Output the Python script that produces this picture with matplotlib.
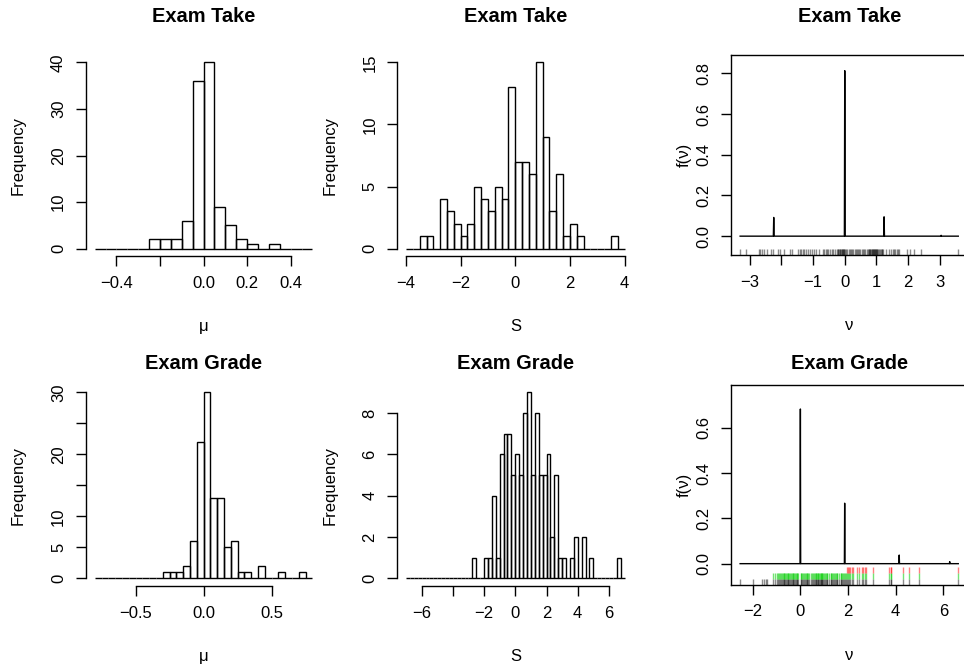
import numpy as np
import matplotlib
matplotlib.use("Agg")
import matplotlib.pyplot as plt

plt.rcParams['font.family'] = ['Liberation Sans', 'DejaVu Sans']
plt.rcParams['font.size'] = 12

W, H = 964, 667

# ---- histogram data (counts per bin) ----
take_mu_lo, take_mu_hi, take_mu_w = -0.5, 0.5, 0.05
take_mu_counts = [0, 0, 0, 0, 0, 2, 2, 2, 6, 36,
                  40, 9, 5, 2, 1, 0, 1, 0, 0, 0]

take_s_lo, take_s_hi, take_s_w = -4.0, 4.0, 0.25
take_s_counts = [0, 0, 1, 1, 0, 4, 3, 2, 1, 2,
                 5, 4, 3, 5, 4, 13, 7, 7, 6, 15,
                 9, 3, 6, 1, 2, 1, 0, 0, 0, 0, 1, 0]

grade_mu_lo, grade_mu_hi, grade_mu_w = -0.8, 0.8, 0.05
grade_mu_counts = [0, 0, 0, 0, 0, 0, 0, 0, 0, 0,
                   1, 1, 1, 2, 6, 22, 30, 13, 13, 5,
                   6, 1, 1, 0, 2, 0, 0, 1, 0, 0, 1, 0]

grade_s_lo, grade_s_hi, grade_s_w = -7.0, 7.0, 0.25
grade_s_counts = [0] * 17 + [1, 0, 0, 1, 1, 4, 1, 6, 7, 7,
                             5, 6, 5, 8, 9, 5, 8, 5, 5, 6,
                             2, 5, 1, 1, 0, 1, 2, 0, 2, 0,
                             1] + [0] * 6 + [1, 0]

# ---- density spikes and rugs ----
take_spike_x = [-2.24, 0.0, 1.24, 3.04]
take_spike_y = [0.092, 0.813, 0.095, 0.004]
take_rug = [-3.30, -3.11, -2.72, -2.66, -2.60, -2.54, -2.45, -2.33, -2.27,
            -2.12, -2.05, -1.91, -1.72, -1.67, -1.46, -1.42, -1.37, -1.33,
            -1.28, -1.22, -1.15, -1.10, -1.04, -0.97, -0.90, -0.80, -0.70,
            -0.64, -0.60, -0.55, -0.52, -0.45, -0.40, -0.36, -0.30, -0.24,
            -0.22, -0.20, -0.18, -0.16, -0.14, -0.12, -0.10, -0.08, -0.06,
            -0.04, -0.02, -0.01, 0.02, 0.05, 0.08, 0.12, 0.16, 0.20, 0.23,
            0.27, 0.31, 0.35, 0.38, 0.42, 0.45, 0.48, 0.53, 0.57, 0.61,
            0.65, 0.69, 0.73, 0.76, 0.78, 0.80, 0.81, 0.83, 0.85, 0.86,
            0.88, 0.90, 0.91, 0.93, 0.94, 0.96, 0.97, 0.99, 1.01, 1.03,
            1.05, 1.08, 1.10, 1.13, 1.16, 1.19, 1.22, 1.30, 1.38, 1.45,
            1.52, 1.56, 1.60, 1.64, 1.68, 1.72, 1.97, 2.05, 2.19, 2.40, 3.58]

grade_spike_x = [0.0, 1.86, 4.15, 6.27]
grade_spike_y = [0.683, 0.267, 0.038, 0.009]
grade_rug = [-2.53, -2.00, -1.62, -1.51, -1.45, -1.40, -1.16, -1.05, -0.98,
             -0.95, -0.90, -0.86, -0.82, -0.78, -0.75, -0.70, -0.68, -0.64,
             -0.61, -0.57, -0.54, -0.52, -0.47, -0.44, -0.40, -0.37, -0.33,
             -0.30, -0.27, -0.24, -0.20, -0.16, -0.13, -0.08, 0.01, 0.04,
             0.08, 0.12, 0.15, 0.19, 0.22, 0.26, 0.29, 0.33, 0.36, 0.45,
             0.50, 0.53, 0.57, 0.60, 0.64, 0.67, 0.71, 0.73, 0.76, 0.78,
             0.81, 0.85, 0.88, 0.90, 0.92, 0.95, 0.99, 1.02, 1.06, 1.10,
             1.13, 1.20, 1.27, 1.30, 1.34, 1.38, 1.41, 1.45, 1.48, 1.52,
             1.55, 1.62, 1.69, 1.72, 1.76, 1.80, 1.83, 1.86, 1.90, 1.95,
             2.01, 2.06, 2.10, 2.16, 2.20, 2.37, 2.46, 2.58, 2.64, 2.70,
             2.74, 3.06, 3.72, 3.79, 3.79, 4.32, 4.56, 4.98, 6.63]
grade_green_cut = -1.2   # points above this get the green rug
grade_red_cut = 1.92     # points above this get the red rug

fig = plt.figure(figsize=(W / 100, H / 100), dpi=100)


def px_axes(l, t, r, b):
    return fig.add_axes([l / W, 1 - b / H, (r - l) / W, (b - t) / H])


TICK = 7.2   # 10 px
LW = 1.0


def style(ax, xticks, xlabels, yticks, ylabels, xlabel, ylabel, title, box,
          ylab_off=60, title_pad=23.5):
    ax.set_xticks(xticks, xlabels)
    ax.set_yticks(yticks, ylabels)
    ax.tick_params(direction='out', length=TICK, width=LW, pad=TICK, labelsize=12)
    ax.tick_params(axis='y', labelrotation=90)
    for lab in ax.get_yticklabels():
        lab.set_va('center')
    for s in ax.spines.values():
        s.set_linewidth(LW)
    if not box:
        ax.spines['top'].set_visible(False)
        ax.spines['right'].set_visible(False)
        ax.spines['bottom'].set_bounds(xticks[0], xticks[-1])
        ax.spines['left'].set_bounds(yticks[0], yticks[-1])
    bb = ax.get_position()
    wpx, hpx = bb.width * W, bb.height * H
    ax.set_xlabel(xlabel, fontsize=12)
    ax.xaxis.set_label_coords(0.5, -63 / hpx)
    ax.xaxis.label.set_va('top')
    ax.set_ylabel(ylabel, fontsize=12)
    ax.yaxis.set_label_coords(-ylab_off / wpx, 0.5)
    ax.set_title(title, fontsize=14.4, fontweight='bold', pad=title_pad)


def hist_panel(ax, lo, hi, w, counts):
    counts = np.asarray(counts)
    edges = np.linspace(lo, hi, len(counts) + 1)
    ax.bar(edges[:-1], counts, width=w, align='edge', fill=False,
           edgecolor='black', linewidth=LW)
    pad = 0.04 * (hi - lo)
    ax.set_xlim(lo - pad, hi + pad)
    ax.set_ylim(-0.04 * counts.max(), 1.04 * counts.max())


def density_panel(ax, rug, sx, sy, half, ylim):
    lo, hi = min(rug), max(rug)
    xs, ys = [lo], [0.0]
    for x0, y0 in zip(sx, sy):
        xs += [x0 - half, x0, x0 + half]
        ys += [0.0, y0, 0.0]
    xs.append(hi)
    ys.append(0.0)
    ax.plot(xs, ys, color='black', lw=LW)
    pad = 0.04 * (hi - lo)
    ax.set_xlim(lo - pad, hi + pad)
    ax.set_ylim(*ylim)


# top row
ax1 = px_axes(86, 55, 321.2, 256)
hist_panel(ax1, take_mu_lo, take_mu_hi, take_mu_w, take_mu_counts)
style(ax1, [-0.4, -0.2, 0.0, 0.2, 0.4], ['\u22120.4', '', '0.0', '0.2', '0.4'],
      [0, 10, 20, 30, 40], ['0', '10', '20', '30', '40'],
      '\u03bc', 'Frequency', 'Exam Take', False)

ax2 = px_axes(397.3, 55, 633.3, 256)
hist_panel(ax2, take_s_lo, take_s_hi, take_s_w, take_s_counts)
style(ax2, [-4, -2, 0, 2, 4], ['\u22124', '\u22122', '0', '2', '4'],
      [0, 5, 10, 15], ['0', '5', '10', '15'],
      'S', 'Frequency', 'Exam Take', False)

ax3 = px_axes(731.4, 55, 967, 255.5)
density_panel(ax3, take_rug, take_spike_x, take_spike_y, 0.012, (-0.095, 0.89))
ax3.vlines(take_rug, 0, 0.03, transform=ax3.get_xaxis_transform(),
           color='black', alpha=0.45, lw=1.0)
style(ax3, [-3, -2, -1, 0, 1, 2, 3], ['\u22123', '', '\u22121', '0', '1', '2', '3'],
      [0.0, 0.2, 0.4, 0.6, 0.8], ['0.0', '0.2', '0.4', '0.6', '0.8'],
      '\u03bd', 'f(\u03bd)', 'Exam Take', True, ylab_off=40)

# bottom row
ax4 = px_axes(86, 385, 321.2, 585.8)
hist_panel(ax4, grade_mu_lo, grade_mu_hi, grade_mu_w, grade_mu_counts)
style(ax4, [-0.5, 0.0, 0.5], ['\u22120.5', '0.0', '0.5'],
      [0, 5, 10, 15, 20, 25, 30], ['0', '5', '10', '', '20', '', '30'],
      '\u03bc', 'Frequency', 'Exam Grade', False, title_pad=11.5)

ax5 = px_axes(397.3, 385, 633.3, 585.8)
hist_panel(ax5, grade_s_lo, grade_s_hi, grade_s_w, grade_s_counts)
style(ax5, [-6, -4, -2, 0, 2, 4, 6],
      ['\u22126', '', '\u22122', '0', '2', '4', '6'],
      [0, 2, 4, 6, 8], ['0', '2', '4', '6', '8'],
      'S', 'Frequency', 'Exam Grade', False, title_pad=11.5)

ax6 = px_axes(731.4, 385, 967, 584.5)
density_panel(ax6, grade_rug, grade_spike_x, grade_spike_y, 0.012, (-0.092, 0.789))
grade_green = [v for v in grade_rug if v > grade_green_cut]
grade_red = [v for v in grade_rug if v > grade_red_cut]
tr6 = ax6.get_xaxis_transform()
ax6.vlines(grade_rug, 0, 0.03, transform=tr6, color='black', alpha=0.45, lw=1.0)
ax6.vlines(grade_green, 0.03, 0.06, transform=tr6, color='#00cc00', alpha=0.55, lw=1.0)
ax6.vlines(grade_red, 0.06, 0.09, transform=tr6, color='#ff0000', alpha=0.5, lw=1.0)
style(ax6, [-2, 0, 2, 4, 6], ['\u22122', '0', '2', '4', '6'],
      [0.0, 0.2, 0.4, 0.6], ['0.0', '0.2', '0.4', '0.6'],
      '\u03bd', 'f(\u03bd)', 'Exam Grade', True, ylab_off=40, title_pad=11.5)

fig.savefig('out.png', dpi=100)
